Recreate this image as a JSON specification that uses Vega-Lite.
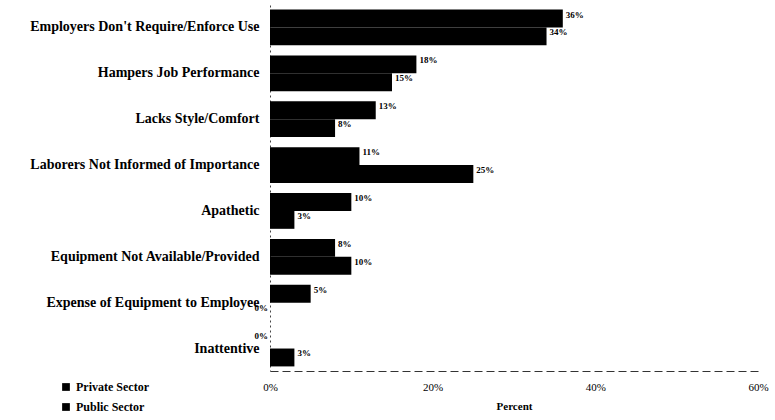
{
  "$schema": "https://vega.github.io/schema/vega-lite/v6.json",
  "width": 488,
  "height": 366,
  "autosize": "none",
  "padding": {"left": 270, "top": 5, "right": 17, "bottom": 49},
  "background": "white",
  "config": {"view": {"stroke": null}},
  "data": {
    "values": [
      {"cause": "Employers Don't Require/Enforce Use", "sector": "Private Sector", "pct": 0.36},
      {"cause": "Employers Don't Require/Enforce Use", "sector": "Public Sector", "pct": 0.34},
      {"cause": "Hampers Job Performance", "sector": "Private Sector", "pct": 0.18},
      {"cause": "Hampers Job Performance", "sector": "Public Sector", "pct": 0.15},
      {"cause": "Lacks Style/Comfort", "sector": "Private Sector", "pct": 0.13},
      {"cause": "Lacks Style/Comfort", "sector": "Public Sector", "pct": 0.08},
      {"cause": "Laborers Not Informed of Importance", "sector": "Private Sector", "pct": 0.11},
      {"cause": "Laborers Not Informed of Importance", "sector": "Public Sector", "pct": 0.25},
      {"cause": "Apathetic", "sector": "Private Sector", "pct": 0.10},
      {"cause": "Apathetic", "sector": "Public Sector", "pct": 0.03},
      {"cause": "Equipment Not Available/Provided", "sector": "Private Sector", "pct": 0.08},
      {"cause": "Equipment Not Available/Provided", "sector": "Public Sector", "pct": 0.10},
      {"cause": "Expense of Equipment to Employee", "sector": "Private Sector", "pct": 0.05},
      {"cause": "Expense of Equipment to Employee", "sector": "Public Sector", "pct": 0},
      {"cause": "Inattentive", "sector": "Private Sector", "pct": 0},
      {"cause": "Inattentive", "sector": "Public Sector", "pct": 0.03}
    ]
  },
  "encoding": {
    "y": {
      "field": "cause", "type": "nominal", "sort": null,
      "scale": {"paddingInner": 0.22, "paddingOuter": 0.1},
      "axis": {
        "title": null, "ticks": false, "labelPadding": 11,
        "labelFont": "Liberation Serif", "labelFontWeight": "bold", "labelFontSize": 14,
        "labelColor": "black", "labelLimit": 300,
        "domainColor": "#444", "domainDash": [2, 3], "domainWidth": 1
      }
    },
    "yOffset": {"field": "sector", "type": "nominal", "sort": ["Private Sector", "Public Sector"]},
    "x": {
      "field": "pct", "type": "quantitative",
      "scale": {"domain": [0, 0.6]},
      "axis": {
        "values": [0, 0.2, 0.4, 0.6], "format": ".0%",
        "grid": false, "ticks": false, "labelPadding": 10,
        "labelFont": "Liberation Serif", "labelFontSize": 11, "labelColor": "black",
        "labelFlush": false,
        "domainColor": "#333", "domainDash": [8, 4], "domainWidth": 1,
        "title": "Percent", "titleFont": "Liberation Serif", "titleFontWeight": "bold",
        "titleFontSize": 11, "titleColor": "black", "titlePadding": 8
      }
    }
  },
  "layer": [
    {
      "mark": {"type": "bar"},
      "encoding": {
        "color": {
          "field": "sector", "type": "nominal",
          "scale": {"domain": ["Private Sector", "Public Sector"], "range": ["#000000", "#000000"]},
          "legend": {
            "title": null, "orient": "none", "legendX": -210, "legendY": 376,
            "direction": "vertical", "symbolType": "square", "symbolSize": 60,
            "rowPadding": 8,
            "labelFont": "Liberation Serif", "labelFontWeight": "bold", "labelFontSize": 12,
            "labelColor": "black"
          }
        }
      }
    },
    {
      "transform": [{"filter": "datum.pct > 0"}],
      "mark": {"type": "text", "align": "left", "baseline": "middle", "dx": 3, "dy": -4,
        "font": "Liberation Serif", "fontWeight": "bold", "fontSize": 9, "color": "black"},
      "encoding": {
        "text": {"field": "pct", "type": "quantitative", "format": ".0%"}
      }
    },
    {
      "transform": [{"filter": "datum.pct == 0"}],
      "mark": {"type": "text", "align": "right", "baseline": "middle", "dx": -2, "dy": -4,
        "font": "Liberation Serif", "fontWeight": "bold", "fontSize": 9, "color": "black"},
      "encoding": {
        "text": {"field": "pct", "type": "quantitative", "format": ".0%"}
      }
    }
  ]
}
